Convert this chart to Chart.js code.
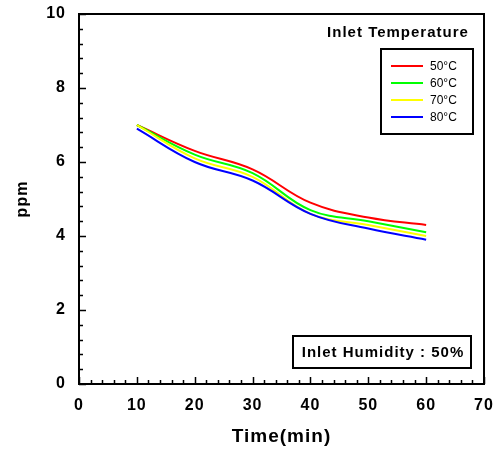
<!DOCTYPE html>
<html>
<head>
<meta charset="utf-8">
<script src="https://cdn.jsdelivr.net/npm/chart.js@4.4.1/dist/chart.umd.min.js"></script>
<style>
html,body{margin:0;padding:0;background:#fff;}
#wrap{width:499px;height:451px;position:relative;}
</style>
</head>
<body>
<div id="wrap"><canvas id="c" width="499" height="451"></canvas></div>
<script>
const times = [10, 20, 30, 40, 50, 60];
const t50 = [7.0, 6.3, 5.8, 4.9, 4.5, 4.3];
const t60 = [7.0, 6.2, 5.7, 4.7, 4.4, 4.1];
const t70 = [7.0, 6.1, 5.6, 4.6, 4.3, 4.0];
const t80 = [6.9, 6.0, 5.5, 4.6, 4.2, 3.9];
const seriesLabels = ['50\u00B0C', '60\u00B0C', '70\u00B0C', '80\u00B0C'];
const seriesColors = ['#ff0000', '#00ff00', '#ffff00', '#0000ff'];
const legendTitle = 'Inlet Temperature';
const noteText = 'Inlet Humidity : 50%';
const xTitle = 'Time(min)';
const yTitle = 'ppm';

const FONT = '"Liberation Sans", Arial, Helvetica, sans-serif';
const allSeries = [t50, t60, t70, t80];

const datasets = allSeries.map((vals, i) => ({
  label: seriesLabels[i],
  data: times.map((t, j) => ({x: t, y: vals[j]})),
  borderColor: seriesColors[i],
  backgroundColor: seriesColors[i],
  borderWidth: 2,
  pointRadius: 0,
  tension: 0.4,
  fill: false,
  order: allSeries.length - i
}));

function zeroPad(s) {
  s.paddingLeft = 0; s.paddingRight = 0; s.paddingTop = 0; s.paddingBottom = 0;
}

const framePlugin = {
  id: 'frame',
  beforeDraw(chart) {
    chart.ctx.letterSpacing = '1px';
  },
  afterDatasetsDraw(chart) {
    const ctx = chart.ctx;
    const a = chart.chartArea;
    const xs = chart.scales.x, ys = chart.scales.y;
    ctx.save();
    ctx.letterSpacing = '0px';
    ctx.strokeStyle = '#000';
    // ticks inward
    ctx.lineWidth = 1.5;
    ctx.beginPath();
    for (let v = 0; v <= 70.001; v += 2) {
      const px = Math.round(xs.getPixelForValue(v)) + 0.5;
      const major = Math.abs(v / 10 - Math.round(v / 10)) < 1e-6;
      const len = major ? 7 : 4;
      ctx.moveTo(px, a.bottom);
      ctx.lineTo(px, a.bottom - len);
    }
    for (let k = 0; k <= 25; k++) {
      const v = k * 0.4;
      const py = Math.round(ys.getPixelForValue(v)) + 0.5;
      const major = k % 5 === 0;
      const len = major ? 7 : 4;
      ctx.moveTo(a.left, py);
      ctx.lineTo(a.left + len, py);
    }
    ctx.stroke();
    // frame
    ctx.lineWidth = 2;
    ctx.strokeRect(a.left, a.top, a.right - a.left, a.bottom - a.top);

    // legend
    ctx.fillStyle = '#000';
    ctx.letterSpacing = '1px';
    ctx.font = 'bold 15px ' + FONT;
    ctx.textAlign = 'center';
    ctx.textBaseline = 'middle';
    ctx.fillText(legendTitle, 398, 33);
    ctx.letterSpacing = '0px';
    ctx.lineWidth = 2;
    ctx.strokeRect(381, 49, 92, 85);
    ctx.font = '12px ' + FONT;
    ctx.textAlign = 'left';
    chart.data.datasets.forEach((ds, i) => {
      const y = 66 + i * 17;
      ctx.strokeStyle = ds.borderColor;
      ctx.beginPath();
      ctx.moveTo(391, y);
      ctx.lineTo(423, y);
      ctx.stroke();
      ctx.fillStyle = '#000';
      ctx.fillText(ds.label, 430, y + 1);
    });

    // humidity note
    ctx.strokeStyle = '#000';
    ctx.lineWidth = 2;
    ctx.strokeRect(293, 336, 178, 32);
    ctx.letterSpacing = '1px';
    ctx.font = 'bold 15px ' + FONT;
    ctx.textAlign = 'center';
    ctx.fillStyle = '#000';
    ctx.fillText(noteText, 383, 353);
    ctx.restore();
  }
};

new Chart(document.getElementById('c'), {
  type: 'line',
  data: { datasets },
  options: {
    responsive: false,
    animation: false,
    devicePixelRatio: 1,
    layout: { padding: { top: 14, right: 15, left: 0, bottom: 0 } },
    plugins: { legend: { display: false }, tooltip: { enabled: false } },
    scales: {
      x: {
        type: 'linear',
        min: 0, max: 70,
        grid: { display: false, drawTicks: false },
        border: { display: false },
        ticks: { stepSize: 10, padding: 12, color: '#000', font: { family: FONT, size: 16, weight: 'bold' } },
        title: { display: true, text: xTitle, color: '#000', font: { family: FONT, size: 19, weight: 'bold' }, padding: { top: 0, bottom: 3 } },
        afterFit(s) { s.height = 67; zeroPad(s); }
      },
      y: {
        type: 'linear',
        min: 0, max: 10,
        grid: { display: false, drawTicks: false },
        border: { display: false },
        ticks: { stepSize: 2, padding: 13, color: '#000', font: { family: FONT, size: 16, weight: 'bold' } },
        title: { display: true, text: yTitle, color: '#000', font: { family: FONT, size: 16, weight: 'bold' }, padding: { top: 13, bottom: 0 } },
        afterFit(s) { s.width = 79; zeroPad(s); }
      }
    }
  },
  plugins: [framePlugin]
});
</script>
</body>
</html>
